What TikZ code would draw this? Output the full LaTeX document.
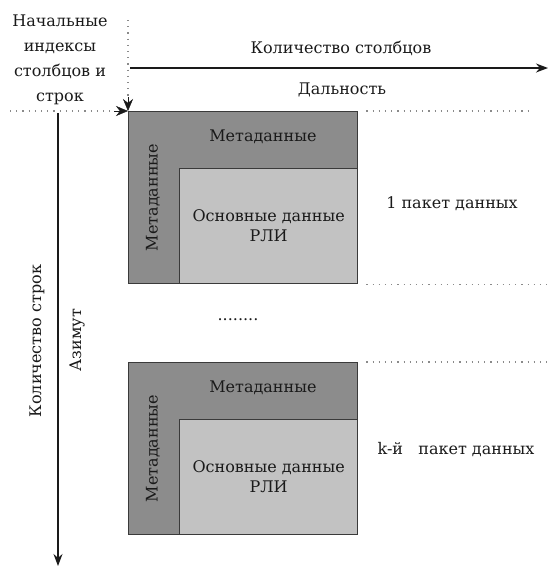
\documentclass[tikz,border=0pt]{standalone}
\usepackage{fontspec}
\setmainfont{DejaVu Serif}
\definecolor{mMetaGray}{HTML}{8C8C8C}
\definecolor{mMainGray}{HTML}{C2C2C2}
\definecolor{mEdgeGray}{HTML}{3A3A3A}
\definecolor{mDotGray}{HTML}{8A8A8A}
\definecolor{mInk}{HTML}{1A1A1A}
\usepackage{tikz}
\usetikzlibrary{positioning,arrows.meta,calc}
\tikzset{
 lbl/.style={font=\fontsize{16}{24}\selectfont, text=mInk, inner sep=0pt},
 metabox/.style={draw=mEdgeGray, line width=1.3pt, fill=mMetaGray, inner sep=0pt},
 mainbox/.style={draw=mEdgeGray, line width=1.3pt, fill=mMainGray, inner sep=0pt, align=center, font=\fontsize{16}{20}\selectfont, text=mInk},
 guide/.style={mDotGray, line width=1.2pt, dash pattern=on 1.2pt off 5pt},
 axis/.style={mInk, line width=1.3pt, -{Stealth[length=12pt,width=9pt]}},
}
\newcommand{\rlipacket}[2]{%
 \node[metabox, minimum width=229pt, minimum height=172pt, anchor=north west] (meta#2) at (128,#1) {};%
 \node[mainbox, minimum width=178pt, minimum height=115pt, anchor=south east] (main#2) at (meta#2.south east) {Основные данные\\РЛИ};%
 \node[lbl] (top#2) at ($(meta#2.north)!0.5!(main#2.north)+(7,-3)$) {Метаданные};%
 \node[lbl, rotate=90] (side#2) at ($(meta#2.west)+(25,0)$) {Метаданные};}

\begin{document}
\begin{tikzpicture}[x=1pt, y=-1pt]
\useasboundingbox (0,0) rectangle (548,566);
% packets
\rlipacket{111}{a}
\rlipacket{362}{b}
\node[lbl] (namea) at (452,204) {1 пакет данных};
\node[lbl] (nameb) at (456,450) {k-й \ \ пакет данных};
\node[lbl] (gap) at (238,320) {........};
% start indices
\node[lbl, align=center, font=\fontsize{16}{25}\selectfont] (start) at (60,60) {Начальные\\индексы\\столбцов и\\строк};
\coordinate (colstart) at (128,20);
\coordinate (rowstart) at (10,111);
\coordinate (coltip) at ($(metaa.north west)+(0,-14)$);
\coordinate (rowtip) at ($(metaa.north west)+(-14,0)$);
\draw[guide] (colstart) -- (coltip);
\draw[guide] (rowstart) -- (rowtip);
\draw[mInk, -{Stealth[length=12pt,width=10pt]}] (coltip) -- (metaa.north west);
\draw[mInk, -{Stealth[length=12pt,width=10pt]}] (rowtip) -- (metaa.north west);
\draw[guide] ($(metaa.north east)+(8,0)$) -- +(165,0);
\draw[guide] ($(metaa.south east)+(8,0)$) -- +(185,0);
\draw[guide] ($(metab.north east)+(8,0)$) -- +(185,0);
% axes
\coordinate (xaxis0) at (130,68);
\coordinate (xaxis1) at (548,68);
\coordinate (yaxis0) at (58,113);
\coordinate (yaxis1) at (58,566);
\draw[axis] (xaxis0) -- (xaxis1);
\draw[axis] (yaxis0) -- (yaxis1);
\node[lbl] (cols) at (341,48) {Количество столбцов};
\node[lbl] (range) at (342,90) {Дальность};
\node[lbl, rotate=90] (rows) at (37,341) {Количество строк};
\node[lbl, rotate=90] (azim) at (77,340) {Азимут};
\end{tikzpicture}
\end{document}
